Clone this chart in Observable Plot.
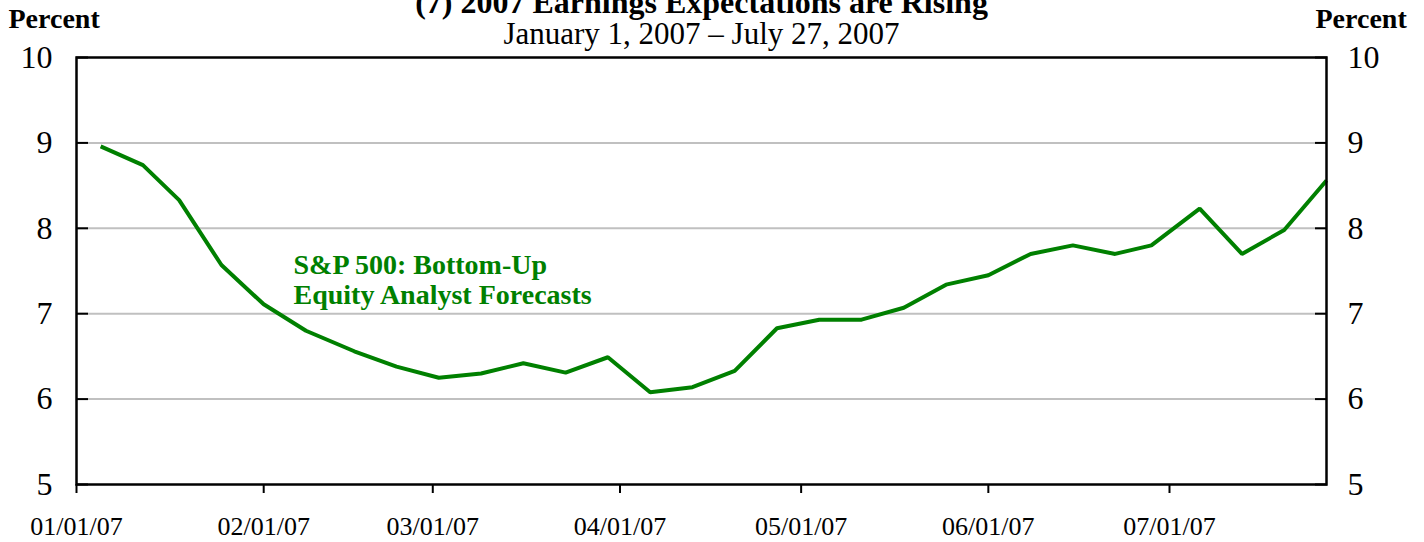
<!DOCTYPE html>
<html><head><meta charset="utf-8">
<script src="https://cdn.jsdelivr.net/npm/d3@7"></script>
<script src="https://cdn.jsdelivr.net/npm/@observablehq/plot@0.6"></script>
<style>body{margin:0;background:#fff;overflow:hidden} svg{display:block}</style>
</head><body><div id="chart"></div>
<script>
const title = "(7) 2007 Earnings Expectations are Rising";
const subtitle = "January 1, 2007 – July 27, 2007";
const yLabel = "Percent";
const seriesName = "S&P 500: Bottom-Up\nEquity Analyst Forecasts";
const dates = ["2007-01-05","2007-01-12","2007-01-18","2007-01-25","2007-02-01","2007-02-08","2007-02-16","2007-02-23",
  "2007-03-02","2007-03-09","2007-03-16","2007-03-23","2007-03-30","2007-04-06","2007-04-13","2007-04-20","2007-04-27",
  "2007-05-04","2007-05-11","2007-05-18","2007-05-25","2007-06-01","2007-06-08","2007-06-15","2007-06-22","2007-06-28",
  "2007-07-06","2007-07-13","2007-07-20","2007-07-27"];
const values = [8.96,8.74,8.33,7.57,7.11,6.80,6.56,6.38,
  6.25,6.30,6.42,6.31,6.49,6.08,6.14,6.33,6.83,
  6.93,6.93,7.07,7.34,7.45,7.70,7.80,7.70,7.80,
  8.23,7.70,7.98,8.56];
const yTicks = [5,6,7,8,9,10];
const gridTicks = [6,7,8,9];
const xDomain = ["2007-01-01","2007-07-27"];
const xTicks = ["2007-01-01","2007-02-01","2007-03-01","2007-04-01","2007-05-01","2007-06-01","2007-07-01"];

const data = dates.map((d,i) => ({date: new Date(d), value: values[i]}));
const font = "Liberation Serif, Times New Roman, serif";
const green = "#008000";
const intFmt = d => String(d);

const chart = Plot.plot({
  width: 1424, height: 542,
  marginLeft: 76, marginRight: 98, marginTop: 57, marginBottom: 58,
  style: {fontFamily: font, background: "white", color: "black", overflow: "hidden"},
  x: {type: "utc", domain: xDomain.map(d => new Date(d)), label: null},
  y: {domain: [5, 10], label: null},
  marks: [
    Plot.gridY(gridTicks, {stroke: "#c0c0c0", strokeOpacity: 1, strokeWidth: 2}),
    Plot.line(data, {x: "date", y: "value", stroke: green, strokeWidth: 4, strokeLinejoin: "miter", strokeLinecap: "butt"}),
    Plot.frame({stroke: "black", strokeWidth: 2.5}),
    // inward ticks
    Plot.axisY(yTicks, {anchor: "left", tickSize: -12, tickFormat: () => "", strokeWidth: 2}),
    Plot.axisY(yTicks, {anchor: "right", tickSize: -12, tickFormat: () => "", strokeWidth: 2}),
    // labels
    Plot.axisY(yTicks, {anchor: "left", tickSize: 0, tickPadding: 24, tickFormat: intFmt, fontSize: 32, fontFamily: font}),
    Plot.axisY(yTicks, {anchor: "right", tickSize: 0, tickPadding: 21, tickFormat: intFmt, fontSize: 32, fontFamily: font}),
    Plot.axisX(xTicks.map(d => new Date(d)), {anchor: "bottom", tickSize: 9, tickPadding: 23, strokeWidth: 2,
      tickFormat: d3.utcFormat("%m/%d/%y"), fontSize: 26, fontFamily: font}),
    Plot.text([title], {frameAnchor: "top", lineAnchor: "bottom", dy: -45, fontSize: 32, fontWeight: "bold", fontFamily: font, fill: "black"}),
    Plot.text([subtitle], {frameAnchor: "top", lineAnchor: "bottom", dy: -14, fontSize: 31, fontFamily: font, fill: "black"}),
    Plot.text([yLabel], {frameAnchor: "top-left", textAnchor: "start", lineAnchor: "bottom", dx: -68, dy: -30, fontSize: 28, fontWeight: "bold", fontFamily: font, fill: "black"}),
    Plot.text([yLabel], {frameAnchor: "top-right", textAnchor: "start", lineAnchor: "bottom", dx: -11, dy: -30, fontSize: 28, fontWeight: "bold", fontFamily: font, fill: "black"}),
    Plot.text([seriesName], {frameAnchor: "top-left", textAnchor: "start", lineAnchor: "top", dx: 217, dy: 195, lineHeight: 1.07, fontSize: 28, fontWeight: "bold", fontFamily: font, fill: green})
  ]
});
document.getElementById("chart").append(chart);
</script>
</body></html>
